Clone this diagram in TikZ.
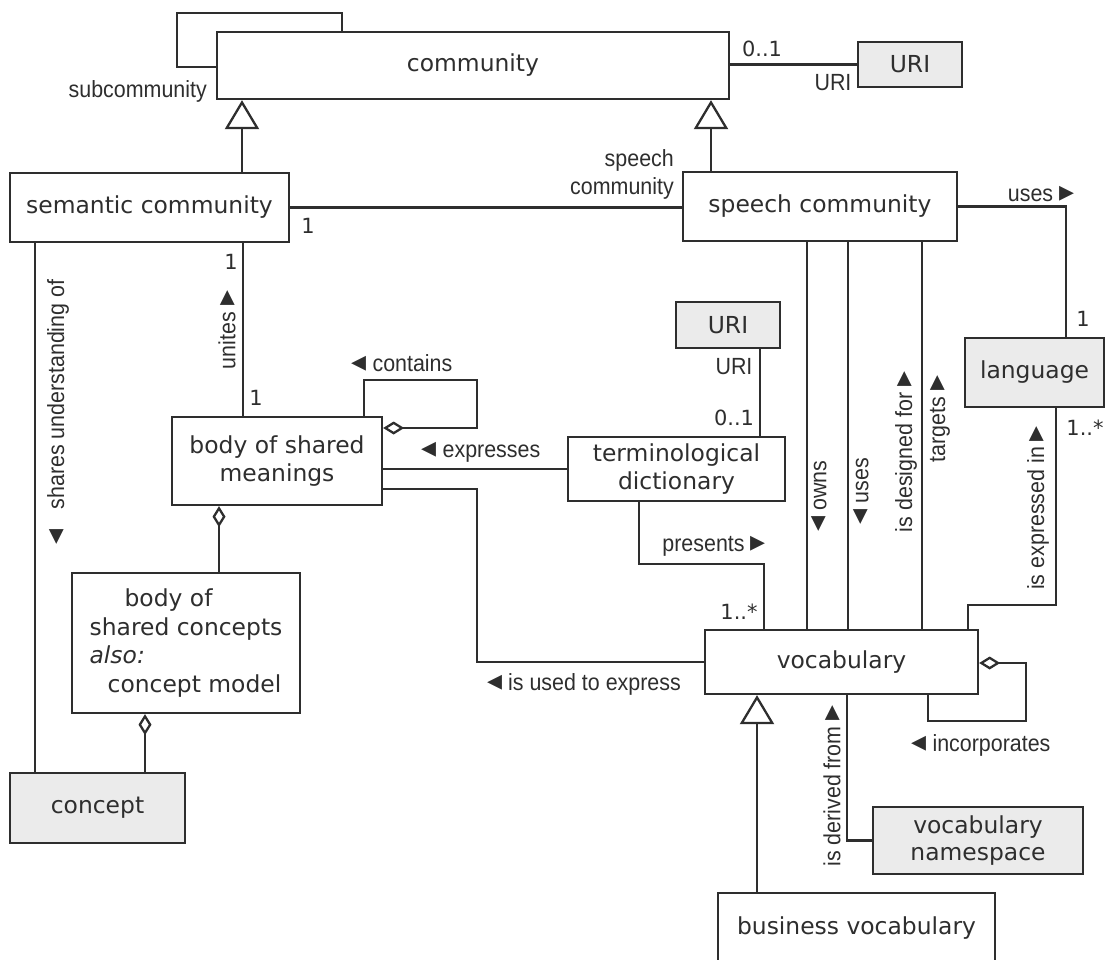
\documentclass[tikz,border=0pt]{standalone}
\usepackage{fontspec}
\setmainfont{DejaVu Sans}
\newfontfamily\lblfont[FakeStretch=0.915]{Liberation Sans}
\newfontfamily\trifont{DejaVu Sans}
\usetikzlibrary{arrows.meta,positioning}
\definecolor{ink}{HTML}{2E2E2E}
\definecolor{extgray}{HTML}{EBEBEB}
\newcommand{\rtri}{{\trifont\fontsize{30}{28}\selectfont ▸}}
\newcommand{\ltri}{{\trifont\fontsize{30}{28}\selectfont ◂}}

\begin{document}
\begin{tikzpicture}[x=1bp, y=-1bp,
    cls/.style={draw=ink, line width=2.3bp, fill=white, inner sep=0pt, align=center, text=ink, font=\fontsize{23.5}{28}\selectfont},
    ext/.style={cls, fill=extgray},
    lbl/.style={inner sep=0pt, text=ink, align=center, font=\lblfont\fontsize{23.5}{28}\selectfont},
    mult/.style={inner sep=0pt, text=ink, font=\fontsize{21}{24}\selectfont},
    link/.style={draw=ink, line width=2.3bp},
    gen/.style={link, -{Triangle[open, length=29bp, width=34bp]}},
    agg/.style={link, -{Diamond[open, length=21bp, width=13bp]}}]
    \useasboundingbox (0,0) rectangle (1106,960);

    % Classes
    \node[cls, minimum width=512bp, minimum height=67bp] (community) at (473,65.5) {community};
    \node[ext, minimum width=104bp, minimum height=45bp] (uritop) at (910,64.5) {URI};
    \node[cls, minimum width=279bp, minimum height=69bp] (semantic) at (149.5,207.5) {semantic community};
    \node[cls, minimum width=274bp, minimum height=69bp] (speech) at (820,206.5) {speech community};
    \node[ext, minimum width=139bp, minimum height=69bp] (language) at (1034.5,372.5) {language};
    \node[ext, minimum width=104bp, minimum height=46bp] (urimid) at (728,325) {URI};
    \node[cls, minimum width=210bp, minimum height=88bp] (meanings) at (277,461) {body of shared\\meanings};
    \node[cls, minimum width=217bp, minimum height=64bp] (dict) at (676.5,469) {terminological\\dictionary};
    \node[cls, minimum width=228bp, minimum height=140bp, align=left,
          font=\fontsize{23.5}{29}\selectfont] (concepts) at (186,643)
          {\hspace*{35bp}body of\\shared concepts\\\textit{also:}\\\hspace*{18bp}concept model};
    \node[cls, minimum width=273bp, minimum height=64bp] (vocab) at (841.5,662) {vocabulary};
    \node[ext, minimum width=175bp, minimum height=70bp] (concept) at (97.5,808) {concept};
    \node[ext, minimum width=210bp, minimum height=67bp] (namespace) at (978,840.5) {vocabulary\\namespace};
    \node[cls, minimum width=277bp, minimum height=70bp] (business) at (856.5,928) {business vocabulary};

    % Community
    \draw[link] (community.west |- 0,67) -| (177,13) -| (community.north -| 342,0);
    \node[lbl, anchor=east] (subcomm) at (207,91) {subcommunity};
    \draw[gen] (semantic.north -| 242,0) -- (community.south -| 242,0);
    \draw[gen] (speech.north -| 711,0) -- (community.south -| 711,0);
    \draw[link] (uritop.west) -- (uritop.west -| community.east);
    \node[mult] (m01top) at (762,49) {0..1};
    \node[lbl] (roleuritop) at (833,83) {URI};

    % Semantic community
    \draw[link] (semantic.east) -- (semantic.east -| speech.west);
    \node[mult] (m1sem) at (308,226) {1};
    \node[lbl, anchor=east, align=right] (rolespeech) at (674,174) {speech\\community};
    \draw[link] (semantic.south -| 243,0) -- (meanings.north -| 243,0);
    \node[mult] (m1unitesa) at (231,262) {1};
    \node[mult] (m1unitesb) at (256,398) {1};
    \node[lbl, rotate=90] (unites) at (227,330) {unites \rtri};
    \draw[link] (semantic.south -| 35,0) -- (concept.north -| 35,0);
    \node[lbl, rotate=90] (shares) at (58,412) {\ltri\hspace{14bp} shares understanding of};

    % Body of shared meanings
    \draw[agg] (meanings.north -| 364,0) |- (477,380) |- (meanings.east |- 0,428);
    \node[lbl] (contains) at (402,363) {\ltri\ contains};
    \draw[link] (dict.west) -- (dict.west -| meanings.east);
    \node[lbl] (expresses) at (481,452) {\ltri\ expresses};
    \draw[link] (meanings.east |- 0,489) -| (vocab.west -| 477,0) -- (vocab.west);
    \node[lbl] (usedto) at (584,684) {\ltri\ is used to express};
    \draw[agg] (concepts.north -| 219,0) -- (meanings.south -| 219,0);
    \draw[agg] (concept.north -| 145,0) -- (concepts.south -| 145,0);

    % Terminological dictionary
    \draw[link] (urimid.south -| 760,0) -- (dict.north -| 760,0);
    \node[lbl] (roleurimid) at (734,367) {URI};
    \node[mult] (m01mid) at (734,418) {0..1};
    \draw[link] (dict.south -| 639,0) |- (764,564) -- (vocab.north -| 764,0);
    \node[lbl] (presents) at (714,546) {presents \rtri};
    \node[mult] (m1npres) at (739,612) {1..*};

    % Speech community
    \foreach \xx in {807,848,922}
        \draw[link] (speech.south -| \xx,0) -- (vocab.north -| \xx,0);
    \node[lbl, rotate=90] (owns) at (819,496) {\ltri\ owns};
    \node[lbl, rotate=90] (usesv) at (861,491) {\ltri\ uses};
    \node[lbl, rotate=90] (designed) at (906,452) {is designed for \rtri};
    \node[lbl, rotate=90] (targets) at (940,419) {targets \rtri};
    \draw[link] (speech.east) -| (language.north -| 1066,0);
    \node[lbl] (usesl) at (1041,194) {uses \rtri};
    \node[mult] (m1lang) at (1083,319) {1};

    % Language
    \draw[link] (language.south -| 1056,0) |- (968,605) -- (vocab.north -| 968,0);
    \node[mult] (m1nlang) at (1085,428) {1..*};
    \node[lbl, rotate=90] (expressedin) at (1038,508) {is expressed in \rtri};

    % Vocabulary
    \draw[agg] (vocab.south -| 928,0) |- (1026,721) |- (vocab.east |- 0,663);
    \node[lbl] (incorporates) at (981,745) {\ltri\ incorporates};
    \draw[link] (vocab.south -| 847,0) |- (namespace.west);
    \node[lbl, rotate=90] (derived) at (832,786) {is derived from \rtri};
    \draw[gen] (business.north -| 757,0) -- (vocab.south -| 757,0);
\end{tikzpicture}
\end{document}
